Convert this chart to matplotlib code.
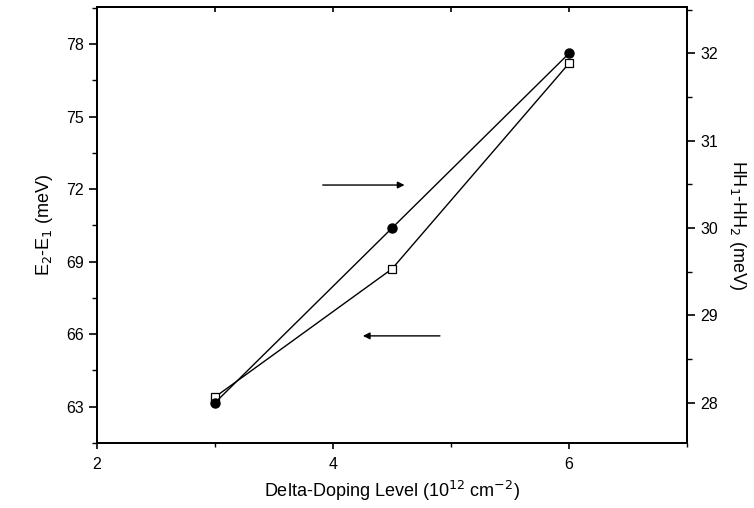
import matplotlib.pyplot as plt
from matplotlib.ticker import MultipleLocator

plt.rcParams['font.family'] = ['Liberation Sans', 'DejaVu Sans']

# delta-doping level (10^12 cm^-2)
doping = [3.0, 4.5, 6.0]
# E2-E1 (meV), left axis, open squares
e21 = [63.4, 68.7, 77.2]
# HH1-HH2 (meV), right axis, filled circles
hh12 = [28.0, 30.0, 32.0]

fig = plt.figure(figsize=(7.54, 5.08), dpi=100)
ax = fig.add_axes([0.1286, 0.128, 0.7825, 0.858])
ax2 = ax.twinx()

ax.plot(doping, e21, '-', color='black', lw=1.0, marker='s', ms=6,
        mfc='white', mec='black', mew=0.9, zorder=3)
ax2.plot(doping, hh12, '-', color='black', lw=1.0, marker='o', ms=6.5,
         mfc='black', mec='black', zorder=3)

ax.set_xlim(2, 7)
ax.set_ylim(61.5, 79.53)
ax2.set_ylim(27.54, 32.53)

ax.xaxis.set_major_locator(MultipleLocator(2))
ax.xaxis.set_minor_locator(MultipleLocator(1))
ax.yaxis.set_major_locator(MultipleLocator(3))
ax.yaxis.set_minor_locator(MultipleLocator(1.5))
ax2.yaxis.set_major_locator(MultipleLocator(1))
ax2.yaxis.set_minor_locator(MultipleLocator(0.5))

for a in (ax, ax2):
    a.tick_params(which='major', direction='out', length=6, width=1.2, labelsize=11.5)
    a.tick_params(which='minor', direction='out', length=3.5, width=1.0)
    for s in a.spines.values():
        s.set_linewidth(1.4)
ax.tick_params(axis='x', which='major', length=4, pad=6)
ax.tick_params(axis='x', which='minor', length=3)

# short inward ticks on the top edge at every unit
top = ax.secondary_xaxis('top')
top.xaxis.set_major_locator(MultipleLocator(1))
top.tick_params(direction='in', length=3.5, width=1.2, labeltop=False)
top.spines['top'].set_linewidth(1.4)

ax.set_xlabel('Delta-Doping Level (10$^{12}$ cm$^{-2}$)', fontsize=13, labelpad=5)
ax.set_ylabel('E$_2$-E$_1$ (meV)', fontsize=13, labelpad=8)
ax2.set_ylabel('HH$_1$-HH$_2$ (meV)', fontsize=13, rotation=270, labelpad=22)

# arrows pointing to the axis each curve belongs to
ax.annotate('', xy=(4.63, 72.17), xytext=(3.89, 72.17),
            arrowprops=dict(arrowstyle='-|>', color='black', lw=1.0, mutation_scale=10))
ax.annotate('', xy=(4.23, 65.93), xytext=(4.93, 65.93),
            arrowprops=dict(arrowstyle='-|>', color='black', lw=1.0, mutation_scale=10))

plt.savefig('out.png', dpi=100)
